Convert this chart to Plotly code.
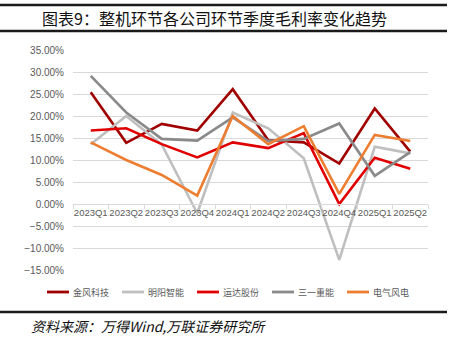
import plotly.graph_objects as go

quarters = ["2023Q1", "2023Q2", "2023Q3", "2023Q4", "2024Q1",
            "2024Q2", "2024Q3", "2024Q4", "2025Q1", "2025Q2"]

goldwind = [25.4, 13.9, 18.2, 16.7, 26.1, 14.5, 14.0, 9.2, 21.7, 11.9]
mingyang = [13.6, 20.0, 13.5, -2.1, 20.8, 17.2, 10.4, -12.7, 13.0, 11.5]
yunda = [16.7, 17.2, 13.6, 10.6, 14.0, 12.7, 16.1, 0.0, 10.5, 8.0]
sany = [29.1, 20.8, 14.8, 14.4, 19.7, 14.3, 14.8, 18.3, 6.4, 11.8]
shanghai_elec = [14.0, 10.0, 6.6, 1.9, 20.0, 13.6, 17.7, 2.3, 15.7, 14.3]

series = [
    ("金风科技", goldwind, "#A00000"),
    ("明阳智能", mingyang, "#BFBFBF"),
    ("运达股份", yunda, "#E00000"),
    ("三一重能", sany, "#8A8A8A"),
    ("电气风电", shanghai_elec, "#ED7D31"),
]

W, H = 456, 354
L, R, T, B = 73, 28, 50, 84
pw, ph = W - L - R, H - T - B

def px(x):
    return (x - L) / pw

def py(y):
    return (H - B - y) / ph

fig = go.Figure()
for name, vals, color in series:
    fig.add_trace(go.Scatter(
        x=quarters, y=[v / 100 for v in vals], name=name, mode="lines",
        line=dict(color=color, width=2.6), showlegend=False,
    ))

y_font = dict(family="Liberation Sans, Arial, sans-serif", size=10, color="#595959")
x_font = dict(family="Liberation Sans, Arial, sans-serif", size=9.5, color="#595959")

fig.update_layout(
    width=W, height=H,
    margin=dict(l=L, r=R, t=T, b=B, autoexpand=False),
    paper_bgcolor="white", plot_bgcolor="white",
    showlegend=False,
    xaxis=dict(
        type="category", range=[-0.5, 9.5],
        anchor="free", position=0.3,
        showline=True, linecolor="#D9D9D9", linewidth=1,
        ticks="outside", tickson="boundaries", ticklen=4, tickcolor="#D9D9D9",
        showgrid=False, tickfont=x_font, zeroline=False, tickangle=0,
    ),
    yaxis=dict(
        range=[-0.15, 0.35], dtick=0.05, tick0=0, tickformat=".2%",
        showgrid=True, gridcolor="#D9D9D9", gridwidth=1,
        zeroline=False, showline=False, tickfont=y_font,
        ticklabelstandoff=8,
    ),
)

# manual legend (swatch + label per series)
leg_x0, leg_pitch, leg_y = 47, 75, 292
for i, (name, _, color) in enumerate(series):
    x0 = leg_x0 + i * leg_pitch
    fig.add_shape(type="line", xref="paper", yref="paper",
                  x0=px(x0), x1=px(x0 + 22), y0=py(leg_y), y1=py(leg_y),
                  line=dict(color=color, width=2.8))
    fig.add_annotation(
        text=name, xref="paper", yref="paper", x=px(x0 + 24), y=py(leg_y),
        xanchor="left", yanchor="middle", align="left", showarrow=False,
        font=dict(family="Noto Sans CJK SC", size=9, color="#595959"),
    )

line_col = "#1a1a1a"
for yy, wdt in [(5, 2.5), (31, 2.5), (312, 2.5)]:
    fig.add_shape(type="line", xref="paper", yref="paper",
                  x0=px(0), x1=px(447), y0=py(yy), y1=py(yy),
                  line=dict(color=line_col, width=wdt))

fig.add_annotation(
    text="图表9：整机环节各公司环节季度毛利率变化趋势",
    xref="paper", yref="paper", x=px(389), y=py(18),
    xanchor="right", yanchor="middle", align="right", showarrow=False,
    font=dict(family="Noto Sans CJK SC", size=16, color="#111111"),
)

fig.add_annotation(
    text="<i>资料来源：万得Wind,万联证券研究所</i>",
    xref="paper", yref="paper", x=px(29), y=py(326),
    xanchor="left", yanchor="middle", align="left", showarrow=False,
    font=dict(family="Noto Sans CJK SC", size=14, color="#111111"),
)

fig.write_html("out.html")
